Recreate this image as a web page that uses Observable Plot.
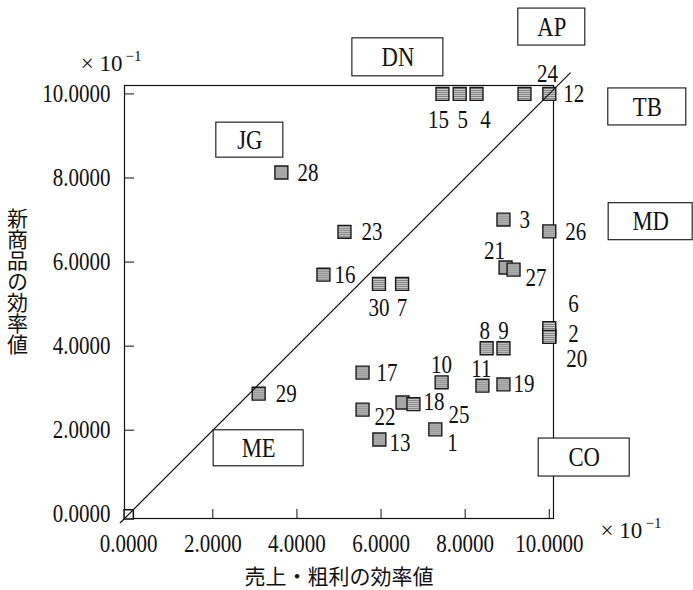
<!DOCTYPE html>
<html><head><meta charset="utf-8">
<script src="https://cdn.jsdelivr.net/npm/d3@7"></script>
<script src="https://cdn.jsdelivr.net/npm/@observablehq/plot@0.6"></script>
<style>body{margin:0;background:#fff;}</style>
</head><body><div id="chart"></div>
<script>
// ---- data (units ×10^-1) ----
const storeIds   = ["1","2","3","4","5","6","7","8","9","10","11","12","13","15","16","17","18","19","20","21","22","23","24","25","26","27","28","29","30"];
const salesEff   = [7.29,10,8.91,8.27,7.87,10,6.5,8.51,8.91,7.44,8.41,10,5.96,7.46,4.63,5.56,6.51,8.91,10,8.96,5.56,5.13,9.41,6.77,10,9.15,3.63,3.09,5.95];
const newProdEff = [2.02,4.25,7.01,10,10,4.43,5.48,3.95,3.95,3.14,3.06,10,1.78,10,5.70,3.37,2.66,3.09,4.22,5.87,2.49,6.72,10,2.62,6.73,5.82,8.13,2.87,5.48];
const xTicks = [0,2,4,6,8,10];
const yTicks = [0,2,4,6,8,10];
const xTickLabels = ["0.0000","2.0000","4.0000","6.0000","8.0000","10.0000"];
const yTickLabels = ["0.0000","2.0000","4.0000","6.0000","8.0000","10.0000"];
const groupNames = ["AP","DN","TB","JG","MD","ME","CO"];
const groupX     = [10.06,6.40,12.33,2.88,12.41,3.09,10.83];
const groupY     = [11.59,10.87,9.69,8.90,6.96,1.57,1.35];
const xTitle = "売上・粗利の効率値";
const yTitle = "新商品の効率値";
const multiplier = "× 10", exponent = "−1";
const frontierExtent = [-0.2, 10.5]; // y = x line

// ---- layout (not data) ----
const W = 693, H = 590;
const mL = 124, mR = 140, mT = 85, mB = 72;
const xDom = [-0.1, 10.1], yDom = [-0.1, 10.2];
const kx = (W - mL - mR) / (xDom[1] - xDom[0]);
const ky = (H - mT - mB) / (yDom[1] - yDom[0]);
const boxSize = {AP:[67,37], DN:[91,38], TB:[78,37], JG:[67,35], MD:[84,37], ME:[90,36], CO:[91,38]};
const labelPos = { // dx, dy, anchor
  "1":[12,14,"start"], "2":[19,-2,"start"], "3":[16,0,"start"], "4":[9,26,"middle"], "5":[3,26,"middle"],
  "6":[19,-24,"start"], "7":[0,24,"middle"], "8":[-2,-17,"middle"], "9":[0,-17,"middle"], "10":[0,-17,"middle"],
  "11":[-1,-17,"middle"], "12":[14,0,"start"], "13":[10,4,"start"], "15":[-4,26,"middle"], "16":[11,0,"start"],
  "17":[14,0,"start"], "18":[21,0,"start"], "19":[10,0,"start"], "20":[17,22,"start"], "21":[-11,-17,"middle"],
  "22":[12,7,"start"], "23":[17,0,"start"], "24":[23,-20,"middle"], "25":[35,11,"start"], "26":[16,1,"start"],
  "27":[12,8,"start"], "28":[16,0,"start"], "29":[17,0,"start"], "30":[0,24,"middle"]
};

const points = storeIds.map((id,i) => ({id, x: salesEff[i], y: newProdEff[i]}));
const groups = groupNames.map((g,i) => ({g, x: groupX[i], y: groupY[i]}));
const serif = "Liberation Serif, serif";
const serifPlain = "'Liberation Serif', serif";
const cjk = "Noto Sans CJK JP, sans-serif";
const numSize = 25;

const labelMarks = points.map(p => Plot.text([p], {x:"x", y:"y", text:"id",
    dx: labelPos[p.id][0], dy: labelPos[p.id][1], textAnchor: labelPos[p.id][2],
    fontSize: numSize, fontFamily: serif, fill: "#111"}));

const chart = Plot.plot({
  width: W, height: H,
  marginLeft: mL, marginRight: mR, marginTop: mT, marginBottom: mB,
  x: {domain: xDom, axis: null},
  y: {domain: yDom, axis: null},
  style: {background: "#fff", color: "#111"},
  marks: [
    Plot.frame({stroke: "#111", strokeWidth: 1.2}),
    // inward ticks
    Plot.ruleY(yTicks.filter(v => v > 0), {x1: xDom[0], x2: xDom[0] + 10/kx, stroke: "#111"}),
    Plot.ruleX(xTicks.filter(v => v > 0), {y1: yDom[0], y2: yDom[0] + 9/ky, stroke: "#111"}),
    // tick labels
    Plot.text(yTicks, {x: xDom[0], y: d => d, text: (d,i) => yTickLabels[i], dx: -14, textAnchor: "end", fontSize: numSize, fontFamily: serif}),
    Plot.text(xTicks, {x: d => d, y: yDom[0], text: (d,i) => xTickLabels[i], dy: 25, fontSize: numSize, fontFamily: serif}),
    // multipliers (not condensed)
    Plot.text([0], {x: xDom[0], y: yDom[1], text: [multiplier], dx: -2, dy: -22, textAnchor: "end", fontSize: 23, fontFamily: serifPlain}),
    Plot.text([0], {x: xDom[0], y: yDom[1], text: [exponent], dx: 1, dy: -29, textAnchor: "start", fontSize: 15, fontFamily: serifPlain}),
    Plot.text([0], {x: xDom[1], y: yDom[0], text: [multiplier], dx: 47, dy: 12, textAnchor: "start", fontSize: 23, fontFamily: serifPlain}),
    Plot.text([0], {x: xDom[1], y: yDom[0], text: [exponent], dx: 92, dy: 5, textAnchor: "start", fontSize: 15, fontFamily: serifPlain}),
    // titles
    Plot.text([0], {x: 5, y: yDom[0], text: [xTitle], dy: 59, fontSize: 21, fontFamily: cjk}),
    Plot.text([0], {x: xDom[0], y: 5.7, text: [yTitle], dx: -107, fontSize: 21, fontFamily: cjk}),
    // group boxes
    Plot.rect(groups, {x1: d => d.x - boxSize[d.g][0]/2/kx, x2: d => d.x + boxSize[d.g][0]/2/kx,
                       y1: d => d.y - boxSize[d.g][1]/2/ky, y2: d => d.y + boxSize[d.g][1]/2/ky,
                       fill: "#fff", stroke: "#111", strokeWidth: 1.1}),
    Plot.text(groups, {x: "x", y: "y", text: "g", fontSize: 27, fontFamily: serif, fill: "#111"}),
    // points
    Plot.dot([{x:0,y:0}], {x:"x", y:"y", symbol: "square", r: 5.2, fill: "#fff", stroke: "#111"}),
    Plot.dot(points, {x: "x", y: "y", symbol: "square", r: 7.3, fill: "url(#tex)", stroke: "#1a1a1a", strokeWidth: 1.4}),
    ...labelMarks,
    // frontier line y = x
    Plot.line(frontierExtent.map(v => ({x: v, y: v})), {x: "x", y: "y", stroke: "#111", strokeWidth: 1.2})
  ]
});

const svg = d3.select(chart);
const pat = svg.insert("defs", ":first-child").append("pattern")
  .attr("id", "tex").attr("patternUnits", "userSpaceOnUse").attr("width", 2).attr("height", 2);
pat.append("rect").attr("width", 2).attr("height", 2).attr("fill", "#cfcfcf");
pat.append("rect").attr("width", 2).attr("height", 1).attr("fill", "#7d7d7d");
document.getElementById("chart").appendChild(chart);

// vertical (upright) y-axis title
svg.selectAll("text").filter(function() { return this.textContent === yTitle; })
  .attr("dy", null)
  .style("writing-mode", "vertical-rl")
  .style("text-orientation", "upright");

// condense the serif (Mincho-like) digits and letters
svg.selectAll("g[font-family^='Liberation'] text").each(function() {
  const L = this.getComputedTextLength();
  if (L > 0) {
    this.setAttribute("textLength", (L * 0.84).toFixed(2));
    this.setAttribute("lengthAdjust", "spacingAndGlyphs");
  }
});
</script>
</body></html>
